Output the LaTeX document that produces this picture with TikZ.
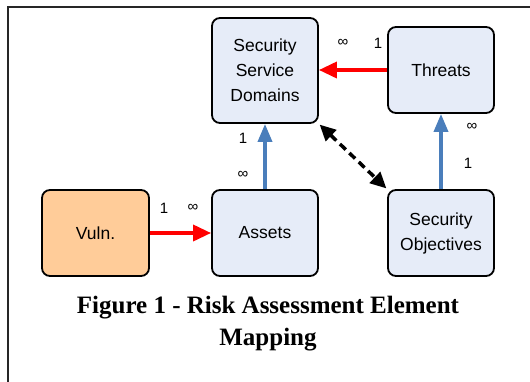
\documentclass[tikz,border=0pt]{standalone}
\usepackage{fontspec}
\setmainfont{Liberation Sans}
\newfontfamily\capfont{Liberation Serif}
\usetikzlibrary{arrows.meta}
\definecolor{boxblue}{HTML}{E6ECF8}
\definecolor{boxorange}{HTML}{FFCC99}
\definecolor{arrowblue}{HTML}{4A7EBB}
\begin{document}
\begin{tikzpicture}[x=1pt,y=-1pt,
  box/.style={draw=black, line width=1.8pt, rounded corners=8pt, align=center,
    font=\fontsize{17.5}{25}\selectfont, inner sep=0pt, minimum width=106pt, minimum height=86pt, fill=boxblue},
  redarrow/.style={draw=red, line width=3.5pt, -{Triangle[length=18pt,width=16pt]}},
  bluearrow/.style={draw=arrowblue, line width=3.5pt, -{Triangle[length=18pt,width=14pt]}},
  dasharrow/.style={draw=black, line width=3.5pt, dash pattern=on 8pt off 5pt,
    {Triangle[length=16pt,width=15pt]}-{Triangle[length=16pt,width=15pt]}},
  lbl/.style={font=\fontsize{15}{15}\selectfont, inner sep=0pt}]
\useasboundingbox (0,0) rectangle (530,381);
\draw[line width=2pt, draw=black!85] (531,7) -- (8,7) -- (8,382);

\node[box, minimum height=105pt] (ssd) at (265,70.5) {Security\\Service\\Domains};
\node[box] (thr) at (441,70) {Threats};
\node[box, fill=boxorange, minimum width=107pt] (vul) at (95.5,233) {Vuln.};
\node[box] (ast) at (265,233) {Assets};
\node[box] (obj) at (441,233) {Security\\Objectives};

\draw[redarrow] (thr.west) -- (ssd.east |- thr.west);
\draw[redarrow] (vul.east) -- (ast.west);
\draw[bluearrow] (ast.north) -- (ssd.south);
\draw[bluearrow] (obj.north) -- (thr.south);
\draw[dasharrow, shorten <=1pt, shorten >=1pt] (ssd.south east) -- (obj.north west);

\node[lbl] (l1) at (343,43) {∞};
\node[lbl] (l2) at (378,43) {1};
\node[lbl] (l3) at (243,138) {1};
\node[lbl] (l4) at (243,175) {∞};
\node[lbl] (l5) at (472,127) {∞};
\node[lbl] (l6) at (468,163) {1};
\node[lbl] (l7) at (164,208) {1};
\node[lbl] (l8) at (193,208) {∞};

\node[font=\capfont\bfseries\fontsize{25}{32}\selectfont, align=center, inner sep=0pt] (cap) at (268,324) {Figure 1 - Risk Assessment Element\\Mapping};
\end{tikzpicture}
\end{document}
